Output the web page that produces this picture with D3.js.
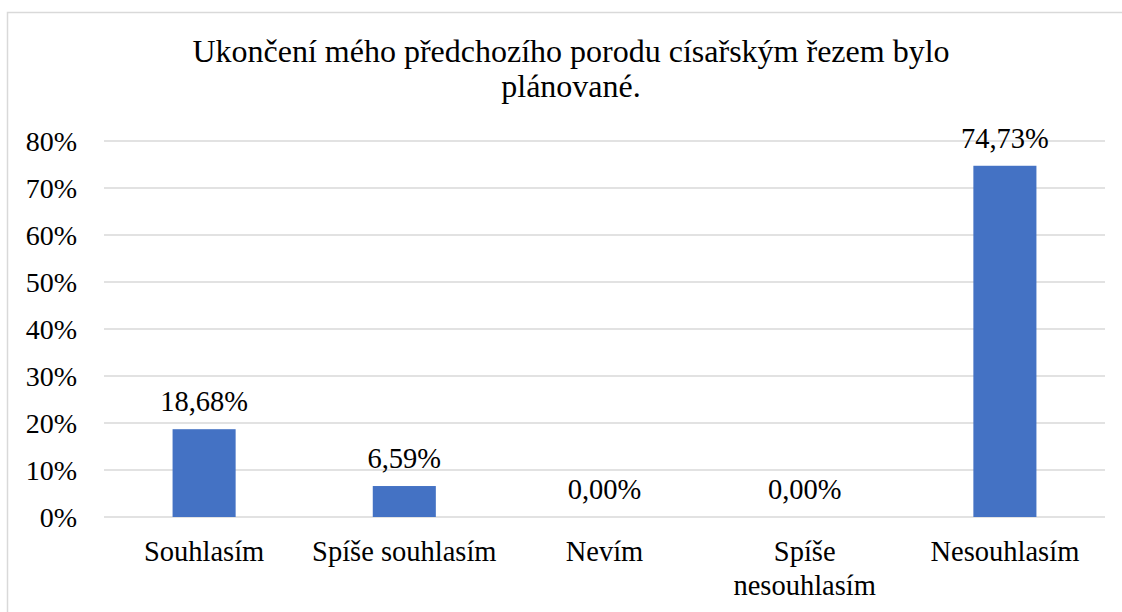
<!DOCTYPE html>
<html>
<head>
<meta charset="utf-8">
<script src="https://cdn.jsdelivr.net/npm/d3@7"></script>
<style>
    body { margin: 0; background: #fff; }
</style>
</head>
<body>
<div id="chart"></div>
<script>
const chartTitle = ["Ukončení mého předchozího porodu císařským řezem bylo", "plánované."];
const categories = ["Souhlasím", "Spíše souhlasím", "Nevím", "Spíše nesouhlasím", "Nesouhlasím"];
const values = [18.68, 6.59, 0.00, 0.00, 74.73];
const yTicks = [0, 10, 20, 30, 40, 50, 60, 70, 80];

const width = 1122;
const height = 612;
const margin = { top: 141, right: 17, bottom: 95, left: 104 };
const serif = '"Liberation Serif", "Times New Roman", serif';

const svg = d3.select("#chart")
    .append("svg")
    .attr("width", width)
    .attr("height", height);

// chart frame
svg.append("rect")
    .attr("x", 7.5)
    .attr("y", 12.5)
    .attr("width", 1140)
    .attr("height", 640)
    .attr("fill", "#fff")
    .attr("stroke", "#d9d9d9")
    .attr("stroke-width", 1.5);

const x = d3.scaleBand()
    .domain(categories)
    .range([margin.left, width - margin.right])
    .paddingInner(0.685)
    .paddingOuter(0.3425);

const y = d3.scaleLinear()
    .domain([0, 80])
    .range([height - margin.bottom, margin.top]);

// gridlines
svg.append("g")
    .selectAll("line")
    .data(yTicks)
    .enter()
    .append("line")
    .attr("x1", margin.left)
    .attr("x2", width - margin.right)
    .attr("y1", d => y(d))
    .attr("y2", d => y(d))
    .attr("stroke", "#d9d9d9")
    .attr("stroke-width", 1.5);

// y labels
svg.append("g")
    .selectAll("text")
    .data(yTicks)
    .enter()
    .append("text")
    .attr("x", 77)
    .attr("y", d => y(d))
    .attr("dy", "0.34em")
    .attr("text-anchor", "end")
    .style("font-family", serif)
    .style("font-size", "28px")
    .text(d => d + "%");

// bars
svg.append("g")
    .selectAll("rect")
    .data(values)
    .enter()
    .append("rect")
    .attr("x", (d, i) => x(categories[i]))
    .attr("y", d => y(d))
    .attr("width", x.bandwidth())
    .attr("height", d => y(0) - y(d))
    .attr("fill", "#4472c4");

// value labels
svg.append("g")
    .selectAll("text")
    .data(values)
    .enter()
    .append("text")
    .attr("x", (d, i) => x(categories[i]) + x.bandwidth() / 2)
    .attr("y", d => y(d) - 18)
    .attr("text-anchor", "middle")
    .style("font-family", serif)
    .style("font-size", "28.5px")
    .text(d => d.toFixed(2).replace(".", ",") + "%");

// category labels, wrapped to the band step
const catLabels = svg.append("g")
    .selectAll("text")
    .data(categories)
    .enter()
    .append("text")
    .attr("x", d => x(d) + x.bandwidth() / 2)
    .attr("y", 561)
    .attr("text-anchor", "middle")
    .style("font-family", serif)
    .style("font-size", "28.5px")
    .text(d => d);

catLabels.each(function (d) {
    const t = d3.select(this);
    if (this.getComputedTextLength() <= x.step()) return;
    const words = d.split(" ");
    t.text(null);
    words.forEach((w, k) => {
        t.append("tspan")
            .attr("x", x(d) + x.bandwidth() / 2)
            .attr("dy", k === 0 ? 0 : "1.2em")
            .text(w);
    });
});

// title
svg.append("g")
    .selectAll("text")
    .data(chartTitle)
    .enter()
    .append("text")
    .attr("x", 571)
    .attr("y", (d, i) => 62 + i * 35)
    .attr("text-anchor", "middle")
    .style("font-family", serif)
    .style("font-size", "32px")
    .text(d => d);
</script>
</body>
</html>
